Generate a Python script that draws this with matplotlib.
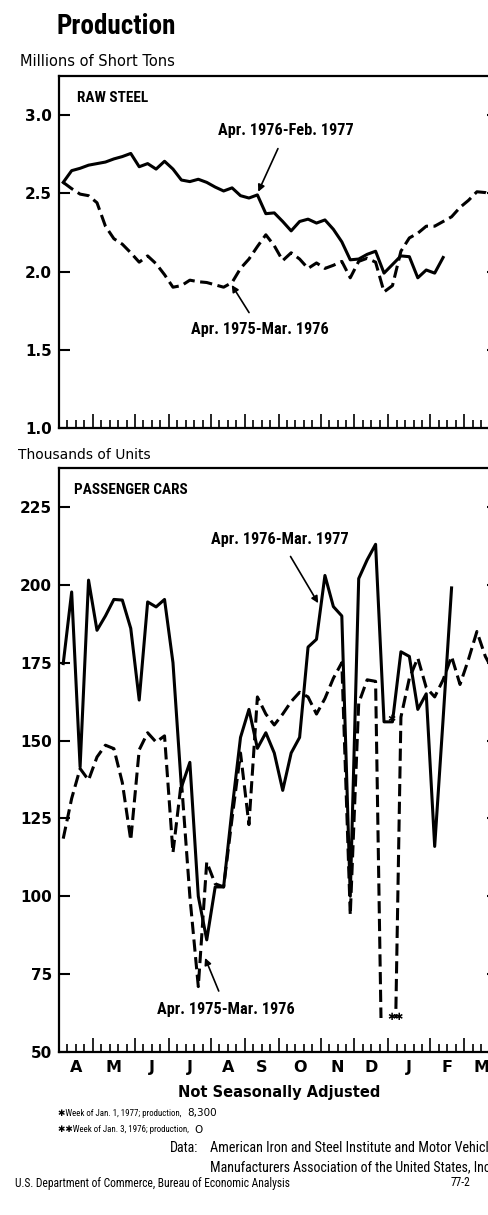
import matplotlib
matplotlib.use('Agg')
import matplotlib.pyplot as plt
from matplotlib import font_manager
from matplotlib.patches import Rectangle
import numpy as np

# weekly values, April through March
steel_76 = [2.57, 2.645, 2.66, 2.68, 2.69, 2.70, 2.72, 2.735, 2.755, 2.67,
            2.69, 2.655, 2.705, 2.655, 2.585, 2.575, 2.59, 2.57, 2.54, 2.515,
            2.535, 2.485, 2.47, 2.49, 2.37, 2.375, 2.32, 2.26, 2.32, 2.335,
            2.31, 2.33, 2.27, 2.19, 2.075, 2.08, 2.11, 2.13, 1.99, 2.045,
            2.10, 2.095, 1.96, 2.01, 1.99, 2.09]
steel_75 = [2.57, 2.53, 2.495, 2.485, 2.44, 2.29, 2.21, 2.175, 2.12, 2.06,
            2.10, 2.05, 1.98, 1.90, 1.91, 1.945, 1.935, 1.93, 1.915, 1.90,
            1.93, 2.02, 2.08, 2.16, 2.235, 2.165, 2.07, 2.12, 2.08, 2.02,
            2.055, 2.02, 2.04, 2.065, 1.96, 2.065, 2.085, 2.06, 1.87, 1.91,
            2.13, 2.215, 2.245, 2.29, 2.29, 2.32, 2.35, 2.41, 2.455, 2.51,
            2.505, 2.48]
cars_76 = [174.7, 197.7, 141.5, 201.5, 185.4, 190, 195.3, 195.1, 186, 163,
           194.5, 192.9, 195.3, 175, 135, 143, 100, 86, 103, 103,
           128, 151, 160, 147.5, 152.5, 146, 134, 146, 151, 180,
           182.5, 203, 193, 190, 100, 202, 208, 213, 156, 156,
           178.5, 177, 160, 165, 116, 157, 199]
cars_75 = [118.5, 131.4, 141, 137.3, 144.7, 148.5, 147.4, 136.5, 118, 147,
           152.5, 149.5, 151.5, 114, 137, 100, 71, 111, 104, 103,
           125, 146, 123, 164, 158.5, 155, 158.5, 162.5, 165.5, 164,
           158.5, 163.5, 170, 175, 94, 162, 169.5, 169, 0, 0,
           157.5, 170, 176.5, 167, 164, 169.5, 177, 168, 176, 185,
           177, 172]

months = ['A', 'M', 'J', 'J', 'A', 'S', 'O', 'N', 'D', 'J', 'F', 'M']
month_weeks = [4, 5, 4, 5, 4, 4, 5, 4, 4, 5, 4, 4]

steel_ticks = [1.0, 1.5, 2.0, 2.5, 3.0]
cars_ticks = [50, 75, 100, 125, 150, 175, 200, 225]


# narrow face for the typeset labels; Roboto if no condensed face is installed
have = {f.name for f in font_manager.fontManager.ttflist}
nscale = 0.9
nface = 'Roboto'
for n in ['Roboto Condensed', 'Liberation Sans Narrow', 'Open Sans Condensed']:
    if n in have:
        nface, nscale = n, 1.0
        break
narrow = [nface, 'DejaVu Sans']


def ns(s):
    return s * nscale


W, H = 488, 1215
fig = plt.figure(figsize=(W / 100, H / 100), dpi=100)

ax1 = fig.add_axes([59 / W, 787 / H, 439 / W, 352 / H])
ax2 = fig.add_axes([59 / W, 163 / H, 439 / W, 584 / H])

bounds = np.concatenate([[0], np.cumsum(month_weeks)])
centers = (bounds[:-1] + bounds[1:]) / 2

dash = (0, (4, 1.8))
arrow = dict(arrowstyle='-|>', color='k', lw=1.2, mutation_scale=10,
             shrinkA=6, shrinkB=0)


def style(ax, yticks, labels):
    ax.set_xlim(0, bounds[-1])
    ax.set_yticks(yticks)
    ax.set_yticklabels(labels, fontweight='bold', fontsize=11)
    ax.set_xticks(bounds)
    ax.set_xticklabels([])
    ax.set_xticks(np.arange(bounds[-1] + 1), minor=True)
    ax.tick_params(axis='y', direction='in', length=8, width=1.5,
                   left=True, right=True, pad=5)
    ax.tick_params(axis='x', which='major', direction='in', length=10,
                   width=1.2, top=False)
    ax.tick_params(axis='x', which='minor', direction='in', length=6,
                   width=1.2, top=False)
    for s in ax.spines.values():
        s.set_linewidth(1.6)


# raw steel
x76 = np.arange(len(steel_76)) + 0.5
x75 = np.arange(len(steel_75)) + 0.5
ax1.plot(x76, steel_76, color='k', lw=2.2)
ax1.plot(x75, steel_75, color='k', lw=2.2, linestyle=dash)
ax1.set_ylim(1.0, 3.25)
style(ax1, steel_ticks, ['%.1f' % t for t in steel_ticks])
ax1.text(0.041, 0.9375, 'RAW STEEL', transform=ax1.transAxes, family=narrow,
         fontsize=ns(11), fontweight='bold', va='center')
ax1.annotate('Apr. 1976-Feb. 1977', xy=(23.6, 2.51), xytext=(26.9, 2.90),
             family=narrow, fontsize=ns(11.7), fontweight='bold', ha='center',
             va='center', arrowprops=arrow)
ax1.annotate('Apr. 1975-Mar. 1976', xy=(20.46, 1.914), xytext=(23.8, 1.627),
             family=narrow, fontsize=ns(11.7), fontweight='bold', ha='center',
             va='center', arrowprops=arrow)

# passenger cars; the off-scale weeks are cut short above the axis floor
clip = Rectangle((0, 61), bounds[-1], 300, transform=ax2.transData)
c76 = np.arange(len(cars_76)) + 0.5
c75 = np.arange(len(cars_75)) + 0.5
l1, = ax2.plot(c76, cars_76, color='k', lw=2.2)
l2, = ax2.plot(c75, cars_75, color='k', lw=2.2, linestyle=dash)
l1.set_clip_path(clip)
l2.set_clip_path(clip)
ax2.set_ylim(50, 237.5)
style(ax2, cars_ticks, [str(t) for t in cars_ticks])
ax2.text(0.034, 0.962, 'PASSENGER CARS', transform=ax2.transAxes, family=narrow,
         fontsize=ns(11), fontweight='bold', va='center')
ax2.annotate('Apr. 1976-Mar. 1977', xy=(30.7, 194.1), xytext=(26.2, 214.7),
             family=narrow, fontsize=ns(11.7), fontweight='bold', ha='center',
             va='center', arrowprops=arrow)
ax2.annotate('Apr. 1975-Mar. 1976', xy=(17.3, 80.2), xytext=(19.8, 63.8),
             family=narrow, fontsize=ns(11.7), fontweight='bold', ha='center',
             va='center', arrowprops=arrow)
ax2.text(39.8, 61.2, '\u2731\u2731', family=narrow, fontsize=7, ha='center', va='center')
ax2.text(39.4, 157, '\u2731', family=narrow, fontsize=7, ha='center', va='center')
for c, m in zip(centers, months):
    ax2.text(c, -0.027, m, transform=ax2.get_xaxis_transform(), ha='center',
             va='center', fontweight='bold', fontsize=11.5)


# figure text, placed in pixels from the top-left corner
def ftext(px, py, s, **kw):
    return fig.text(px / W, 1 - py / H, s, va='center', **kw)


ftext(57, 26, 'Production', family=narrow, fontsize=ns(19.5), fontweight='bold')
ftext(20, 62, 'Millions of Short Tons', fontsize=10.5)
ftext(18, 455, 'Thousands of Units', fontsize=10)
ftext(279, 1092, 'Not Seasonally Adjusted', fontsize=10.5, fontweight='bold', ha='center')
t1 = ftext(58, 1113, '\u2731Week of Jan. 1, 1977; production,', family=narrow, fontsize=ns(6.4))
t2 = ftext(58, 1130, '\u2731\u2731Week of Jan. 3, 1976; production,', family=narrow, fontsize=ns(6.4))
for lead, num in [(t1, '8,300'), (t2, 'O')]:
    fig.add_artist(matplotlib.text.Annotation(
        num, xy=(1, 0.5), xycoords=lead, xytext=(4, 0), textcoords='offset points',
        va='center', fontsize=7.5))
ftext(170, 1148, 'Data:', family=narrow, fontsize=ns(10))
ftext(210, 1148, 'American Iron and Steel Institute and Motor Vehicle', family=narrow, fontsize=ns(10.2))
ftext(210, 1167, 'Manufacturers Association of the United States, Inc.', family=narrow, fontsize=ns(10))
ftext(15, 1183, 'U.S. Department of Commerce, Bureau of Economic Analysis', family=narrow, fontsize=ns(8.3))
ftext(451, 1183, '77-2', family=narrow, fontsize=ns(8.3))

fig.savefig('out.png', dpi=100)
